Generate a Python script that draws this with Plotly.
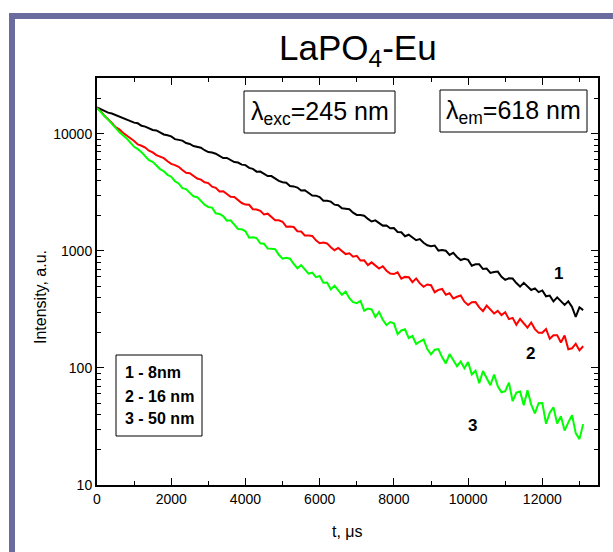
import numpy as np
import plotly.graph_objects as go

# time grid (microseconds), sampled every 100 us
time_us = list(range(0, 13200, 100))

# log10(intensity), curve 1 (8 nm, black)
log10_intensity_8nm = [
    4.225, 4.208, 4.198, 4.181, 4.174, 4.160, 4.146, 4.138, 4.122, 4.107,
    4.096, 4.090, 4.069, 4.062, 4.050, 4.033, 4.029, 4.010, 3.995, 3.988,
    3.978, 3.955, 3.950, 3.942, 3.921, 3.914, 3.896, 3.888, 3.881, 3.860,
    3.844, 3.840, 3.830, 3.811, 3.793, 3.794, 3.777, 3.759, 3.755, 3.737,
    3.733, 3.709, 3.701, 3.677, 3.678, 3.658, 3.639, 3.639, 3.615, 3.598,
    3.587, 3.583, 3.554, 3.551, 3.541, 3.516, 3.518, 3.493, 3.473, 3.472,
    3.460, 3.428, 3.428, 3.421, 3.395, 3.390, 3.364, 3.361, 3.356, 3.327,
    3.307, 3.307, 3.300, 3.273, 3.251, 3.261, 3.237, 3.216, 3.217, 3.194,
    3.195, 3.162, 3.159, 3.125, 3.138, 3.114, 3.091, 3.101, 3.069, 3.048,
    3.040, 3.046, 3.003, 3.008, 3.001, 2.966, 2.984, 2.948, 2.922, 2.932,
    2.923, 2.873, 2.885, 2.885, 2.845, 2.849, 2.812, 2.819, 2.823, 2.779,
    2.753, 2.766, 2.764, 2.725, 2.695, 2.727, 2.694, 2.666, 2.680, 2.648,
    2.662, 2.612, 2.618, 2.568, 2.603, 2.570, 2.539, 2.569, 2.522, 2.436,
    2.518, 2.494,
]

# curve 2 (16 nm, red)
log10_intensity_16nm = [
    4.222, 4.193, 4.154, 4.126, 4.094, 4.058, 4.039, 4.009, 3.982, 3.962,
    3.939, 3.910, 3.898, 3.883, 3.856, 3.842, 3.818, 3.805, 3.792, 3.766,
    3.743, 3.733, 3.718, 3.691, 3.667, 3.663, 3.640, 3.618, 3.609, 3.586,
    3.579, 3.549, 3.539, 3.508, 3.509, 3.485, 3.462, 3.461, 3.431, 3.409,
    3.396, 3.394, 3.356, 3.354, 3.343, 3.311, 3.318, 3.286, 3.261, 3.262,
    3.249, 3.207, 3.209, 3.204, 3.168, 3.165, 3.132, 3.131, 3.128, 3.090,
    3.065, 3.071, 3.064, 3.032, 3.006, 3.025, 2.998, 2.973, 2.979, 2.951,
    2.958, 2.918, 2.919, 2.879, 2.902, 2.875, 2.849, 2.869, 2.831, 2.807,
    2.802, 2.817, 2.763, 2.778, 2.775, 2.733, 2.765, 2.722, 2.693, 2.713,
    2.707, 2.647, 2.667, 2.675, 2.626, 2.638, 2.593, 2.608, 2.619, 2.566,
    2.538, 2.561, 2.563, 2.518, 2.485, 2.532, 2.496, 2.465, 2.488, 2.452,
    2.476, 2.417, 2.428, 2.369, 2.418, 2.380, 2.345, 2.388, 2.332, 2.300,
    2.301, 2.333, 2.249, 2.280, 2.280, 2.217, 2.277, 2.160, 2.168, 2.207,
    2.150, 2.185,
]

# curve 3 (50 nm, green)
log10_intensity_50nm = [
    4.222, 4.184, 4.153, 4.122, 4.082, 4.051, 4.016, 3.989, 3.961, 3.925,
    3.889, 3.869, 3.844, 3.809, 3.776, 3.761, 3.730, 3.699, 3.681, 3.650,
    3.634, 3.595, 3.576, 3.536, 3.528, 3.495, 3.466, 3.459, 3.423, 3.395,
    3.375, 3.370, 3.321, 3.316, 3.298, 3.258, 3.262, 3.220, 3.187, 3.185,
    3.167, 3.113, 3.117, 3.110, 3.065, 3.062, 3.020, 3.018, 3.015, 2.967,
    2.934, 2.942, 2.933, 2.889, 2.852, 2.879, 2.840, 2.806, 2.814, 2.776,
    2.786, 2.728, 2.729, 2.671, 2.703, 2.663, 2.625, 2.653, 2.596, 2.562,
    2.553, 2.572, 2.489, 2.508, 2.500, 2.435, 2.479, 2.412, 2.366, 2.392,
    2.381, 2.288, 2.320, 2.330, 2.255, 2.273, 2.205, 2.226, 2.243, 2.162,
    2.116, 2.156, 2.161, 2.091, 2.039, 2.119, 2.062, 2.015, 2.055, 1.998,
    2.050, 1.944, 1.976, 1.870, 1.974, 1.910, 1.852, 1.944, 1.844, 1.792,
    1.802, 1.875, 1.716, 1.789, 1.798, 1.682, 1.810, 1.687, 1.612, 1.699,
    1.701, 1.523, 1.617, 1.663, 1.525, 1.587, 1.465, 1.535, 1.597, 1.443,
    1.392, 1.520,
]

series_names = ["1 - 8nm", "2 - 16 nm", "3 - 50 nm"]
series_colors = ["#000000", "#ff0000", "#00ff00"]
curve_labels = ["1", "2", "3"]

x_tick_vals = [0, 2000, 4000, 6000, 8000, 10000, 12000]
x_tick_text = ["0", "2000", "4000", "6000", "8000", "10000", "12000"]
y_tick_vals = [10, 100, 1000, 10000]
y_tick_text = ["10", "100", "1000", "10000"]

FONT = "Arial, Liberation Sans, Helvetica, sans-serif"

fig = go.Figure()
for name, color, logv in zip(series_names, series_colors,
                             [log10_intensity_8nm, log10_intensity_16nm, log10_intensity_50nm]):
    fig.add_trace(go.Scatter(
        x=time_us, y=np.power(10.0, np.array(logv)),
        mode="lines", name=name,
        line=dict(color=color, width=2),
        showlegend=False,
    ))

# pixel-to-paper helpers for layout elements (plot area: x 97..598, y 78..485)
L, R, T, B = 97, 598, 78, 485
def px(x):
    return (x - L) / (R - L)
def py(y):
    return (B - y) / (B - T)

axis_common = dict(
    showline=True, linecolor="black", linewidth=2, mirror="allticks",
    ticks="inside", ticklen=7, tickwidth=1.3, tickcolor="black",
    showgrid=False, zeroline=False,
    tickfont=dict(family=FONT, size=14, color="black"),
)

fig.update_xaxes(
    range=[0, 13500], tickmode="array", tickvals=x_tick_vals, ticktext=x_tick_text,
    minor=dict(ticks="inside", ticklen=4, tickwidth=1.3, dtick=1000, tick0=0, tickcolor="black"),
    **axis_common,
)
fig.update_yaxes(
    type="log", range=[1, np.log10(30000)], tickmode="array", tickvals=y_tick_vals, ticktext=y_tick_text,
    minor=dict(ticks="inside", ticklen=4, tickwidth=1.3, dtick="D1", tickcolor="black"),
    **axis_common,
)

shapes = [
    # purple frame (left and top bars)
    dict(type="rect", xref="paper", yref="paper", x0=px(9), x1=px(15), y0=py(552), y1=py(13),
         fillcolor="#6b6c9e", line=dict(width=0)),
    dict(type="rect", xref="paper", yref="paper", x0=px(9), x1=px(613), y0=py(19), y1=py(13),
         fillcolor="#6b6c9e", line=dict(width=0)),
    # excitation / emission boxes
    dict(type="rect", xref="paper", yref="paper", x0=px(244), x1=px(395), y0=py(133), y1=py(91),
         fillcolor="white", line=dict(color="black", width=1)),
    dict(type="rect", xref="paper", yref="paper", x0=px(440), x1=px(587), y0=py(132), y1=py(90),
         fillcolor="white", line=dict(color="black", width=1)),
    # legend box
    dict(type="rect", xref="paper", yref="paper", x0=px(116), x1=px(202), y0=py(436), y1=py(355),
         fillcolor="white", line=dict(color="black", width=1)),
]

annotations = [
    dict(text="LaPO<sub>4</sub>-Eu", x=px(358), y=py(50), xref="paper", yref="paper",
         showarrow=False, xanchor="center", yanchor="middle",
         font=dict(family=FONT, size=35, color="black")),
    dict(text="λ<sub>exc</sub>=245 nm", x=px(319.5), y=py(113), xref="paper", yref="paper",
         showarrow=False, xanchor="center", yanchor="middle",
         font=dict(family=FONT, size=25, color="black")),
    dict(text="λ<sub>em</sub>=618 nm", x=px(513), y=py(112), xref="paper", yref="paper",
         showarrow=False, xanchor="center", yanchor="middle",
         font=dict(family=FONT, size=25, color="black")),
    dict(text="Intensity, a.u.", x=px(40), y=py(297), xref="paper", yref="paper",
         showarrow=False, xanchor="center", yanchor="middle", textangle=-90,
         font=dict(family=FONT, size=16, color="black")),
    dict(text="t, μs", x=px(347), y=py(531), xref="paper", yref="paper",
         showarrow=False, xanchor="center", yanchor="middle",
         font=dict(family=FONT, size=16, color="black")),
]

legend_y = [372, 396, 418]
for name, yy in zip(series_names, legend_y):
    annotations.append(dict(text="<b>%s</b>" % name, x=px(123), y=py(yy), xref="paper", yref="paper",
                            showarrow=False, xanchor="left", yanchor="middle",
                            font=dict(family=FONT, size=16, color="black")))

label_pos = [(558, 273), (530, 353), (472, 425)]
for lab, (lx, ly) in zip(curve_labels, label_pos):
    annotations.append(dict(text="<b>%s</b>" % lab, x=px(lx), y=py(ly), xref="paper", yref="paper",
                            showarrow=False, xanchor="center", yanchor="middle",
                            font=dict(family=FONT, size=17, color="black")))

fig.update_layout(
    width=613, height=552,
    margin=dict(l=L, r=613 - R, t=T, b=552 - B, pad=0),
    paper_bgcolor="white", plot_bgcolor="white",
    shapes=shapes, annotations=annotations,
    showlegend=False,
)

fig.write_html(
    "out.html",
    config={"displayModeBar": False},
    post_script="document.body.style.margin='0';document.body.style.padding='0';document.body.style.overflow='hidden';",
)
